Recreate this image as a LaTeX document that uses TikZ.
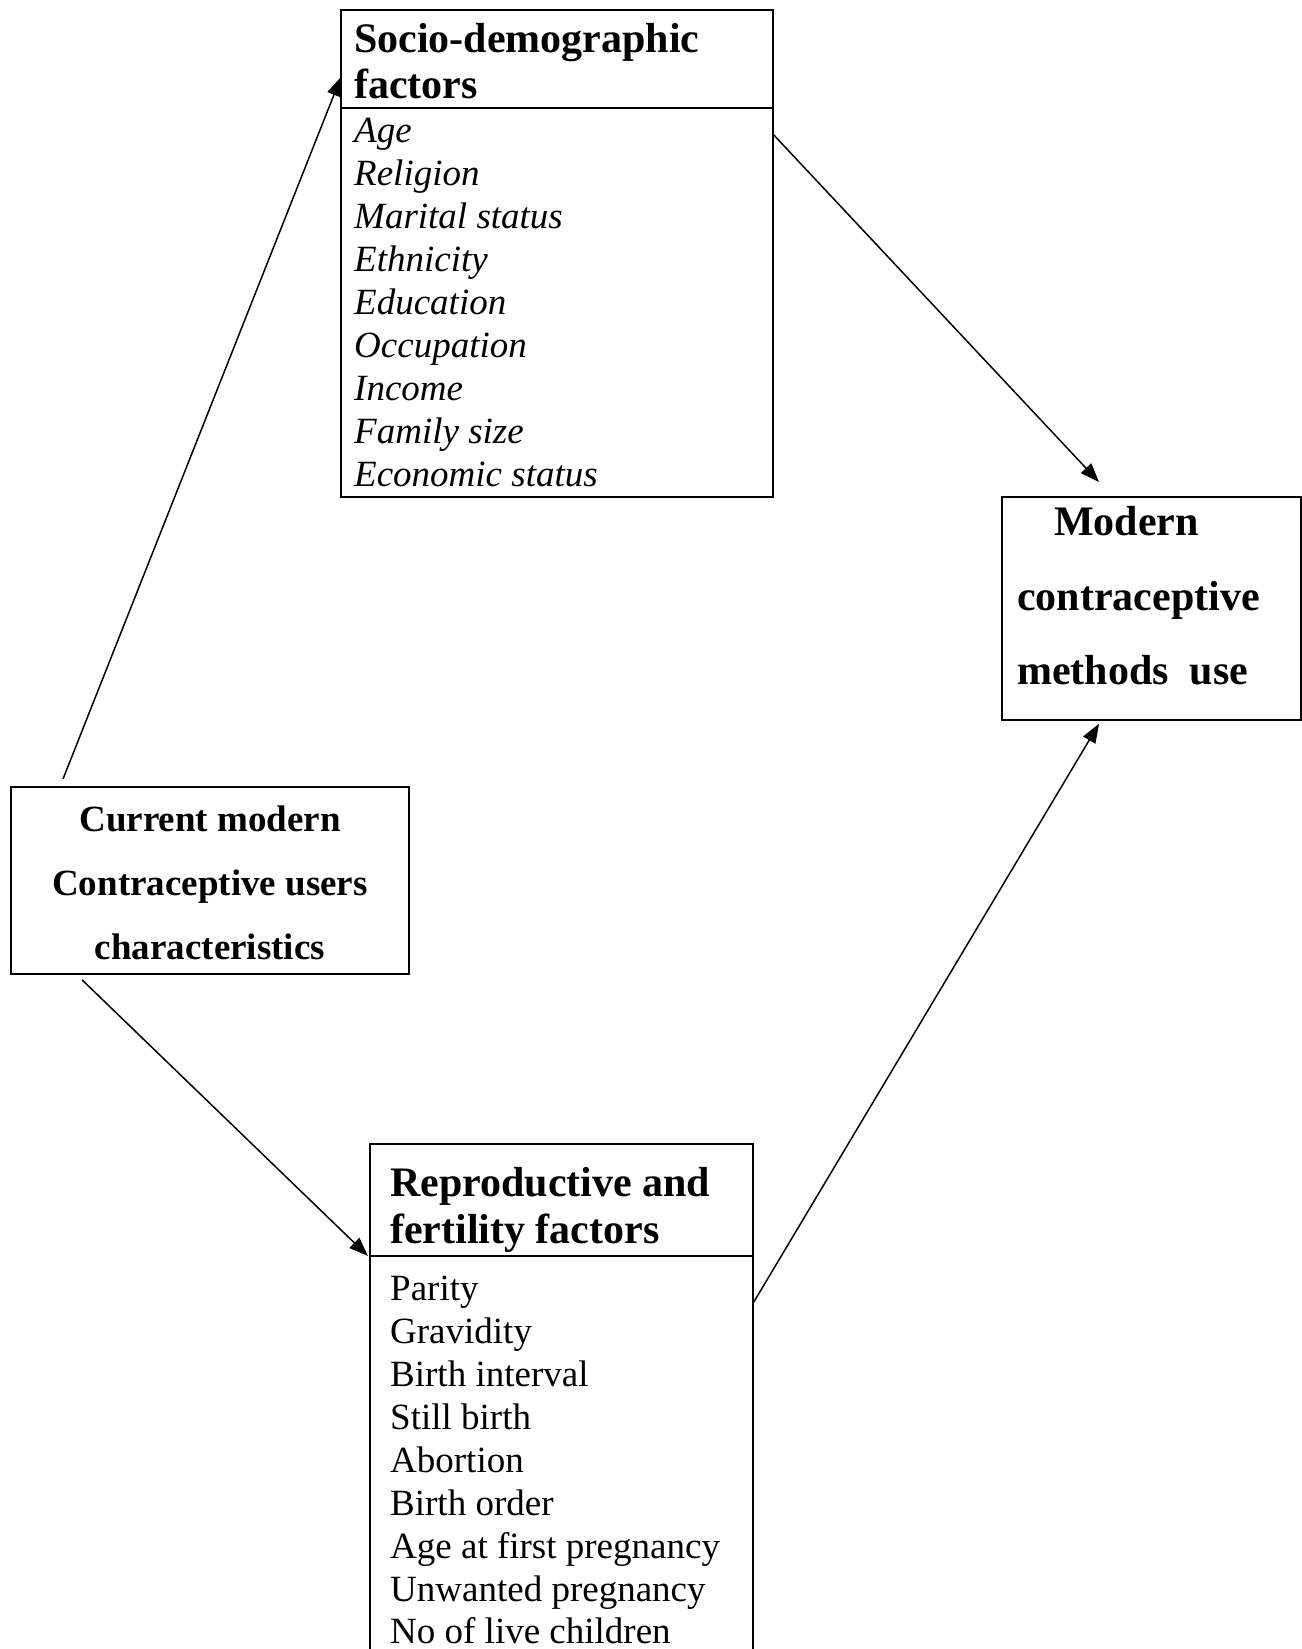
\documentclass[tikz,border=0pt]{standalone}
\usepackage{fontspec}
\setmainfont{Liberation Serif}
\usetikzlibrary{arrows.meta,calc}
\begin{document}
\begin{tikzpicture}[x=1pt,y=-1pt,
  box/.style={draw,line width=1.8pt,inner sep=0pt,anchor=north west},
  title/.style={anchor=base west,inner sep=0pt,font=\fontsize{42}{47}\selectfont\bfseries},
  itemit/.style={anchor=base west,inner sep=0pt,font=\fontsize{37}{43}\selectfont\itshape},
  itemrm/.style={anchor=base west,inner sep=0pt,font=\fontsize{37}{43}\selectfont},
  curtxt/.style={anchor=base,inner sep=0pt,font=\fontsize{37}{43}\selectfont\bfseries},
  modtxt/.style={anchor=base west,inner sep=0pt,font=\fontsize{42}{47}\selectfont\bfseries},
  arr/.style={line width=1.5pt,-{Triangle[length=19pt,width=14pt]}}]
\useasboundingbox (0,0) rectangle (1301,1649);
% Socio-demographic box
\node[box,minimum width=432pt,minimum height=487pt] (socio) at (340,9) {};
\draw[line width=1.8pt] (340,108) -- (772,108);
\node[title] (st1) at (354,52) {Socio-demographic};
\node[title] (st2) at (354,98) {factors};
\node[itemit] (s1) at (354,142) {Age};
\node[itemit] (s2) at (354,185) {Religion};
\node[itemit] (s3) at (354,228) {Marital status};
\node[itemit] (s4) at (354,271) {Ethnicity};
\node[itemit] (s5) at (354,314) {Education};
\node[itemit] (s6) at (354,357) {Occupation};
\node[itemit] (s7) at (354,400) {Income};
\node[itemit] (s8) at (354,443) {Family size};
\node[itemit] (s9) at (354,486) {Economic status};
% Modern box
\node[box,minimum width=299pt,minimum height=223pt] (modern) at (1001,496) {};
\node[modtxt] (m1) at (1054,535) {Modern};
\node[modtxt] (m2) at (1017,610) {contraceptive};
\node[modtxt] (m3) at (1017,684) {methods\ \ use};
% Current box
\node[box,minimum width=398pt,minimum height=187pt] (cur) at (10,786) {};
\node[curtxt] (c1) at (210,831) {Current modern};
\node[curtxt] (c2) at (210,895) {Contraceptive users};
\node[curtxt] (c3) at (210,959) {characteristics};
% Reproductive box
\node[box,minimum width=383pt,minimum height=560pt] (repro) at (369,1143) {};
\draw[line width=1.8pt] (369,1256) -- (752,1256);
\node[title] (rt1) at (390,1196) {Reproductive and};
\node[title] (rt2) at (390,1243) {fertility factors};
\node[itemrm] (r1) at (390,1300) {Parity};
\node[itemrm] (r2) at (390,1343) {Gravidity};
\node[itemrm] (r3) at (390,1386) {Birth interval};
\node[itemrm] (r4) at (390,1429) {Still birth};
\node[itemrm] (r5) at (390,1472) {Abortion};
\node[itemrm] (r6) at (390,1515) {Birth order};
\node[itemrm] (r7) at (390,1558) {Age at first pregnancy};
\node[itemrm] (r8) at (390,1601) {Unwanted pregnancy};
\node[itemrm] (r9) at (390,1643) {No of live children};
% Connectors
\draw[arr] ($(cur.north west)+(53,-7)$) -- ($(socio.north west)+(1,68)$);
\draw[arr] ($(socio.north east)+(0,126)$) -- ($(modern.north west)+(98,-14)$);
\draw[arr] ($(cur.south west)+(72,5)$) -- ($(repro.north west)+(-1,113)$);
\draw[arr] ($(repro.north east)+(0,159)$) -- ($(modern.south west)+(98,3)$);
\end{tikzpicture}
\end{document}
